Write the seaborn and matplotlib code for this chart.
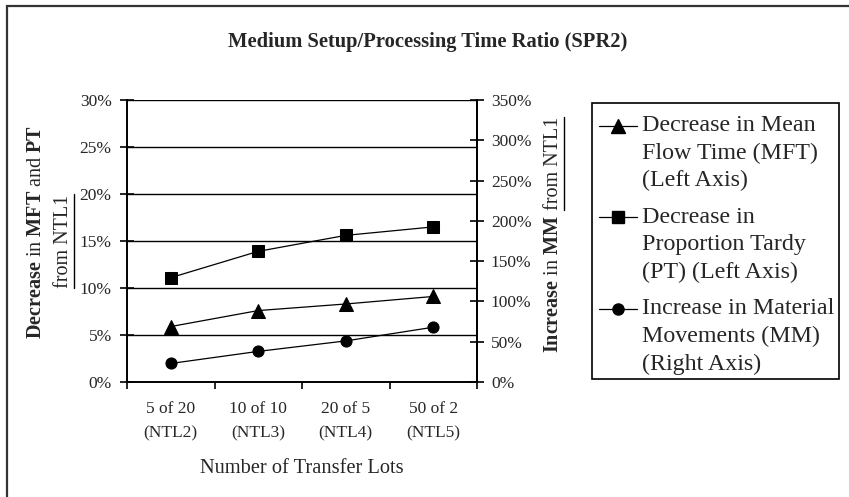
import numpy as np
import pandas as pd
import matplotlib
matplotlib.use("Agg")
import matplotlib.pyplot as plt
import seaborn as sns
from matplotlib.lines import Line2D
from matplotlib.patches import Rectangle
from matplotlib.legend_handler import HandlerLine2D

# ---------------- data ----------------
categories = ["5 of 20\n(NTL2)", "10 of 10\n(NTL3)", "20 of 5\n(NTL4)", "50 of 2\n(NTL5)"]
mft_decrease = [5.9, 7.6, 8.3, 9.1]      # % (left axis)
pt_decrease = [11.1, 13.9, 15.6, 16.5]   # % (left axis)
mm_increase = [23, 38, 51, 68]           # % (right axis)
left_ticks = [0, 5, 10, 15, 20, 25, 30]
right_ticks = [0, 50, 100, 150, 200, 250, 300, 350]
legend_labels = ["Decrease in Mean\nFlow Time (MFT)\n(Left Axis)",
                 "Decrease in\nProportion Tardy\n(PT) (Left Axis)",
                 "Increase in Material\nMovements (MM)\n(Right Axis)"]

sns.set_theme(style="white")
plt.rcParams["font.family"] = ["Liberation Serif", "DejaVu Serif"]
plt.rcParams["mathtext.fontset"] = "custom"
plt.rcParams["mathtext.rm"] = "Liberation Serif"
plt.rcParams["mathtext.bf"] = "Liberation Serif:bold"
plt.rcParams["mathtext.it"] = "Liberation Serif:italic"

W, H = 849, 497
fig = plt.figure(figsize=(W / 100, H / 100), dpi=100)
fig.patch.set_facecolor("white")

ax = fig.add_axes([127 / W, 1 - 382 / H, 350 / W, 282 / H])
pos = np.arange(len(categories))
df = pd.DataFrame({"pos": pos, "mft": mft_decrease, "pt": pt_decrease, "mm": mm_increase})

lw = 0.9
sns.lineplot(data=df, x="pos", y="mft", marker="^", markersize=9.5, color="black",
             linewidth=lw, markeredgecolor="black", ax=ax)
sns.lineplot(data=df, x="pos", y="pt", marker="s", markersize=8.3, color="black",
             linewidth=lw, markeredgecolor="black", ax=ax)

ax.set_ylim(0, 30)
ax.set_yticks(left_ticks)
ax.set_yticklabels([f"{v}%" for v in left_ticks], fontsize=12.5)
ax.yaxis.grid(True, color="black", linewidth=1.0)
ax.set_axisbelow(True)
ax.set_xlim(-0.5, len(categories) - 0.5)
ax.set_xticks(pos)
ax.set_xticklabels(categories, fontsize=12.5, linespacing=1.65)
ax.set_xticks(np.arange(-0.5, len(categories), 1.0), minor=True)
ax.tick_params(axis="x", which="major", length=0, pad=14)
ax.tick_params(axis="x", which="minor", length=5, width=1.2, direction="out",
               bottom=True, color="black")
ax.tick_params(axis="y", which="major", length=10, width=1.2, direction="inout",
               left=True, color="black", pad=6)
ax.set_xlabel("Number of Transfer Lots", fontsize=14.7, labelpad=13)
ax.set_ylabel("")
for s in ["left", "bottom", "right"]:
    ax.spines[s].set_color("black")
    ax.spines[s].set_linewidth(1.4)
ax.spines["top"].set_visible(False)

ax2 = ax.twinx()
sns.lineplot(data=df, x="pos", y="mm", marker="o", markersize=8, color="black",
             linewidth=lw, markeredgecolor="black", ax=ax2)
ax2.set_ylim(0, 350)
ax2.set_yticks(right_ticks)
ax2.set_yticklabels([f"{v}%" for v in right_ticks], fontsize=12.5)
ax2.tick_params(axis="y", which="major", length=10, width=1.2, direction="inout",
                right=True, color="black", pad=5)
ax2.set_ylabel("")
ax2.grid(False)
ax2.spines["top"].set_visible(False)
ax2.spines["left"].set_visible(False)
ax2.spines["bottom"].set_visible(False)
ax2.spines["right"].set_color("black")
ax2.spines["right"].set_linewidth(1.4)

# title
fig.text(428 / W, 1 - 42 / H, "Medium Setup/Processing Time Ratio (SPR2)",
         fontsize=14.8, fontweight="bold", ha="center", va="center")

# left y label (two lines)
fig.text(37 / W, 1 - 232 / H, r"$\mathbf{Decrease}$ in $\mathbf{MFT}$ and $\mathbf{PT}$",
         rotation=90, fontsize=14.5, ha="center", va="center")
t_from_l = fig.text(63 / W, 1 - 241 / H, "from NTL1", rotation=90, fontsize=14.5,
                    ha="center", va="center")

# right y label: bold part then underlined part
fig.canvas.draw()
r = fig.canvas.get_renderer()
t_r1 = fig.text(553 / W, 1 - 353 / H, r"$\mathbf{Increase}$ in $\mathbf{MM}$",
                rotation=90, fontsize=14.5, ha="center", va="bottom")
fig.canvas.draw()
bb1 = t_r1.get_window_extent(r)
t_r2 = fig.text(553 / W, (bb1.y1 + 5) / H, "from NTL1", rotation=90, fontsize=14.5,
                ha="center", va="bottom")
fig.canvas.draw()
for t in (t_from_l, t_r2):
    bb = t.get_window_extent(r)
    xline = (bb.x1 + 1) / W
    fig.add_artist(Line2D([xline, xline], [bb.y0 / H, bb.y1 / H], color="black",
                          linewidth=1.0, transform=fig.transFigure))


# legend: handles aligned with the first line of each label
class TopHandler(HandlerLine2D):
    def __init__(self, offset, **kw):
        super().__init__(**kw)
        self.offset = offset

    def create_artists(self, legend, orig_handle, xdescent, ydescent, width, height,
                       fontsize, trans):
        arts = super().create_artists(legend, orig_handle, xdescent, ydescent, width,
                                      height, fontsize, trans)
        for a in arts:
            a.set_ydata(np.asarray(a.get_ydata(), dtype=float) + self.offset)
        return arts


leg_fs = 17.3
leg_ls = 1.4
handles = [Line2D([], [], color="black", linewidth=lw, marker=m, markersize=ms)
           for m, ms in (("^", 9.5), ("s", 8.3), ("o", 8))]
leg = fig.legend(handles, legend_labels, loc="upper left",
                 bbox_to_anchor=(599 / W, 1 - 115 / H), prop={"size": leg_fs},
                 frameon=False, handlelength=1.6, handletextpad=0.2,
                 labelspacing=0.65, borderpad=0, borderaxespad=0,
                 handler_map={Line2D: TopHandler(offset=19.5)})
for t in leg.get_texts():
    t.set_linespacing(leg_ls)
# legend frame
fig.add_artist(Rectangle((592 / W, 1 - 379 / H), 247 / W, 276 / H,
                         transform=fig.transFigure, fill=False, edgecolor="black",
                         linewidth=1.2))

# figure border (left and top visible)
fig.add_artist(Rectangle((7 / W, -0.5), 2.0, (1 - 6 / H) + 0.5, transform=fig.transFigure,
                         fill=False, edgecolor="#333333", linewidth=1.6))

fig.savefig("out.png", dpi=100, facecolor="white")
